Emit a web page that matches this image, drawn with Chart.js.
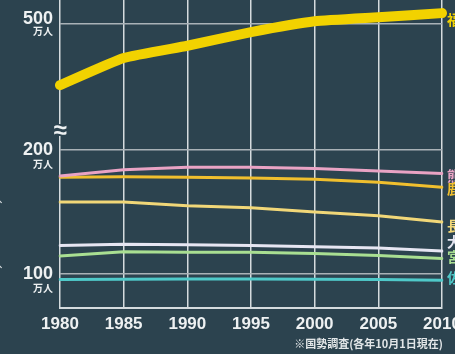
<!DOCTYPE html>
<html>
<head>
<meta charset="utf-8">
<script src="https://cdn.jsdelivr.net/npm/chart.js@4/dist/chart.umd.min.js"></script>
<style>
  html, body { margin: 0; padding: 0; background: #2c434f; overflow: hidden; }
  #wrap { width: 455px; height: 354px; }
</style>
</head>
<body>
<div id="wrap"><canvas id="c" width="455" height="354"></canvas></div>
<script>
// ---- data ----
const years = ['1980', '1985', '1990', '1995', '2000', '2005', '2010'];
const prefectures = ['福岡', '熊本', '鹿児島', '長崎', '大分', '宮崎', '佐賀'];
const fukuoka   = [455, 475, 484, 494, 502, 505, 508];
const kumamoto  = [179, 184, 186, 186, 185, 183, 181];
const kagoshima = [178, 178.5, 178, 177.5, 176.5, 174, 170];
const nagasaki  = [158, 158, 155, 153.5, 150, 147, 142];
const oita      = [123, 124, 123.5, 123, 122, 121, 118.5];
const miyazaki  = [114.5, 118, 117.5, 117.5, 116.5, 115, 112.5];
const saga      = [95.5, 95.8, 96, 96, 95.8, 95.5, 95];
const upperTicks = [500];
const lowerTicks = [200, 100];
const unitLabel = '万人';
const footnote = '※国勢調査(各年10月1日現在)';

// ---- styles ----
const BG = '#2c434f';
const lineColors = ['#f2d200', '#e9a3c4', '#f0bf2e', '#f1d778', '#e6e6f2', '#a9df92', '#4fc9c9'];
const seriesList = [fukuoka, kumamoto, kagoshima, nagasaki, oita, miyazaki, saga];
const labelNudge = [7, 2, 1, 4, -9, -2, -3];
const FONT = '"Liberation Sans", Arial, sans-serif';
const CJK = '"Noto Sans CJK JP", sans-serif';

const datasets = seriesList.map((vals, i) => ({
  label: prefectures[i],
  data: vals,
  yAxisID: i === 0 ? 'yTop' : 'yBot',
  borderColor: lineColors[i],
  borderWidth: i === 0 ? 10 : 3,
  borderCapStyle: 'round',
  borderJoinStyle: 'round',
  pointRadius: 0,
  tension: i === 0 ? 0.15 : 0,
  fill: false
}));

const decor = {
  id: 'decor',
  beforeDraw(chart) {
    const ctx = chart.ctx;
    ctx.save();
    ctx.fillStyle = BG;
    ctx.fillRect(0, 0, chart.width, chart.height);
    ctx.restore();
  },
  afterDraw(chart) {
    const ctx = chart.ctx;
    const ca = chart.chartArea;
    const yT = chart.scales.yTop, yB = chart.scales.yBot;
    ctx.save();
    // unit labels under tick numbers
    ctx.fillStyle = '#eef1f2';
    ctx.font = 'bold 10px ' + CJK;
    ctx.textAlign = 'right';
    ctx.textBaseline = 'middle';
    upperTicks.forEach(v => ctx.fillText(unitLabel, ca.left - 7, yT.getPixelForValue(v) + 7));
    lowerTicks.forEach(v => ctx.fillText(unitLabel, ca.left - 7, yB.getPixelForValue(v) + 14));
    // axis break mark
    const bx = ca.left, by = yT.bottom;
    ctx.fillStyle = BG;
    ctx.fillRect(bx - 9, by - 6, 18, 12);
    ctx.fillStyle = '#eef1f2';
    ctx.font = 'bold 24px ' + FONT;
    ctx.textAlign = 'center';
    ctx.fillText('≈', bx, by + 1);
    // right-side series labels
    ctx.font = 'bold 14px ' + CJK;
    ctx.textAlign = 'left';
    seriesList.forEach((vals, i) => {
      const sc = i === 0 ? yT : yB;
      ctx.fillStyle = lineColors[i];
      ctx.fillText(prefectures[i], ca.right + 5, sc.getPixelForValue(vals[vals.length - 1]) + labelNudge[i]);
    });
    // footnote
    ctx.fillStyle = '#e2e6e8';
    ctx.font = 'bold 11px ' + CJK;
    ctx.textAlign = 'right';
    ctx.fillText(footnote, ca.right + 1, 344);
    // fragments of neighbouring text at left edge
    ctx.fillStyle = '#d8dde0';
    ctx.font = '12px ' + CJK;
    ctx.textAlign = 'left';
    ctx.fillText('、', -2, 198);
    ctx.fillText('、', -2, 263);
    ctx.restore();
  }
};

const yCommon = (ticksArr, offset) => ({
  type: 'linear',
  position: 'left',
  stack: 'y',
  border: { display: false },
  grid: { color: '#a9b2b7', lineWidth: 1.5, drawTicks: false },
  ticks: {
    color: '#eef1f2',
    font: { family: FONT, size: 18, weight: 'bold' },
    padding: 7,
    labelOffset: offset,
    callback: v => String(v)
  },
  afterBuildTicks: s => { s.ticks = ticksArr.map(v => ({ value: v })); },
  afterFit: s => { s.width = 60; s.paddingTop = 0; s.paddingBottom = 0; }
});

new Chart(document.getElementById('c'), {
  type: 'line',
  data: { labels: years, datasets },
  plugins: [decor],
  options: {
    responsive: false,
    devicePixelRatio: 1,
    animation: false,
    layout: { padding: { top: 0, right: 13, bottom: 0, left: 0 } },
    plugins: { legend: { display: false }, tooltip: { enabled: false }, title: { display: false } },
    scales: {
      x: {
        type: 'category',
        offset: false,
        border: { display: true, color: '#d5dbde', width: 2 },
        grid: { color: '#d5dbde', lineWidth: 1.5, drawTicks: false },
        ticks: {
          color: '#eef1f2',
          font: { family: FONT, size: 17, weight: 'bold' },
          padding: 6,
          maxRotation: 0,
          autoSkip: false
        },
        afterFit: s => { s.height = 46; s.paddingLeft = 0; s.paddingRight = 0; }
      },
      yBot: Object.assign(yCommon(lowerTicks, 0), { min: 72.58, max: 216.13, stackWeight: 178 }),
      yTop: Object.assign(yCommon(upperTicks, -5), { min: 422.06, max: 517.65, stackWeight: 130 })
    }
  }
});
</script>
</body>
</html>
